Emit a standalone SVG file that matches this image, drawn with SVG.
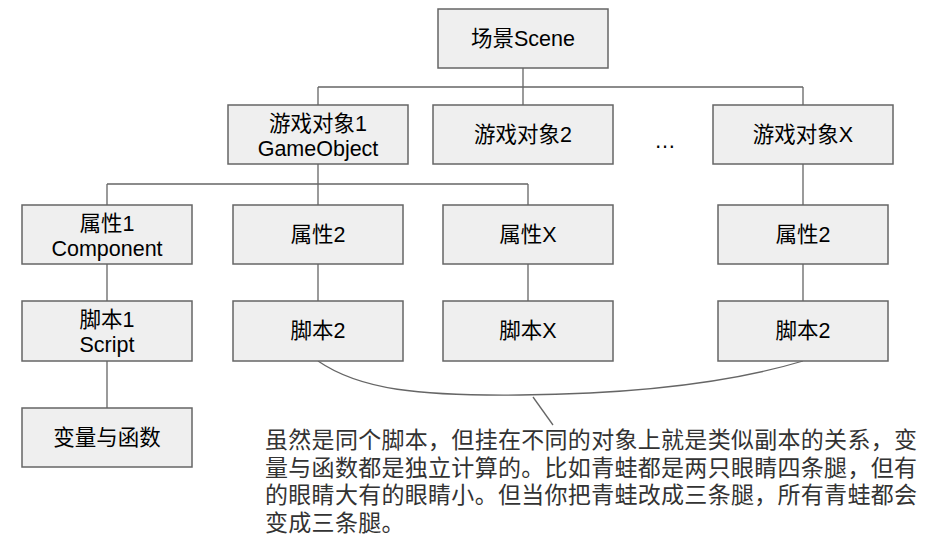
<svg xmlns="http://www.w3.org/2000/svg" width="933" height="547" viewBox="0 0 933 547">
<style>
.box{fill:#efefef;stroke:#666;stroke-width:1.5}
.t{font-family:"Liberation Sans","Noto Sans CJK SC",sans-serif;font-size:21.5px;fill:#000;text-anchor:middle}
.p{font-family:"Liberation Sans","Noto Sans CJK SC",sans-serif;font-size:23px;fill:#333}
.c{fill:none;stroke:#666;stroke-width:1.3}
</style>
<rect width="933" height="547" fill="#fff"/>
<g id="connectors">
<path class="c" d="M523,68V87M318,87H803M318,87V105M523,87V105M803,87V105"/>
<path class="c" d="M318,164V184M107,184H528M107,184V205M318,184V205M528,184V205M803,164V205"/>
<path class="c" d="M107,264V301M318,264V301M528,264V301M803,264V301M107,361V408"/>
<path class="c" d="M318,361C360,390 420,396 520,395C620,394 720,386 803,361"/>
<path class="c" d="M533,397L553,425"/>
</g>
<g id="scene"><rect class="box" x="438" y="9" width="170" height="59"/><text class="t" x="523" y="46">场景Scene</text></g>
<g id="obj1"><rect class="box" x="228" y="105" width="180" height="59"/><text class="t" x="318" y="131">游戏对象1</text><text class="t" x="318" y="156">GameObject</text></g>
<g id="obj2"><rect class="box" x="433" y="105" width="180" height="59"/><text class="t" x="523" y="142">游戏对象2</text></g>
<g id="dots"><text class="t" x="665" y="148">…</text></g>
<g id="objX"><rect class="box" x="713" y="105" width="180" height="59"/><text class="t" x="803" y="142">游戏对象X</text></g>
<g id="comp1"><rect class="box" x="22" y="205" width="170" height="59"/><text class="t" x="107" y="231">属性1</text><text class="t" x="107" y="256">Component</text></g>
<g id="comp2"><rect class="box" x="233" y="205" width="170" height="59"/><text class="t" x="318" y="242">属性2</text></g>
<g id="compX"><rect class="box" x="443" y="205" width="170" height="59"/><text class="t" x="528" y="242">属性X</text></g>
<g id="comp2b"><rect class="box" x="718" y="205" width="170" height="59"/><text class="t" x="803" y="242">属性2</text></g>
<g id="script1"><rect class="box" x="22" y="301" width="170" height="60"/><text class="t" x="107" y="327">脚本1</text><text class="t" x="107" y="352">Script</text></g>
<g id="script2"><rect class="box" x="233" y="301" width="170" height="60"/><text class="t" x="318" y="338">脚本2</text></g>
<g id="scriptX"><rect class="box" x="443" y="301" width="170" height="60"/><text class="t" x="528" y="338">脚本X</text></g>
<g id="script2b"><rect class="box" x="718" y="301" width="170" height="60"/><text class="t" x="803" y="338">脚本2</text></g>
<g id="vars"><rect class="box" x="22" y="408" width="170" height="59"/><text class="t" x="107" y="445">变量与函数</text></g>
<g id="note">
<text class="p" x="265" y="448" textLength="652" lengthAdjust="spacing">虽然是同个脚本，但挂在不同的对象上就是类似副本的关系，变</text>
<text class="p" x="265" y="475.5" textLength="652" lengthAdjust="spacing">量与函数都是独立计算的。比如青蛙都是两只眼睛四条腿，但有</text>
<text class="p" x="265" y="503" textLength="652" lengthAdjust="spacing">的眼睛大有的眼睛小。但当你把青蛙改成三条腿，所有青蛙都会</text>
<text class="p" x="265" y="530.5" letter-spacing="0.3">变成三条腿。</text>
</g>
</svg>
